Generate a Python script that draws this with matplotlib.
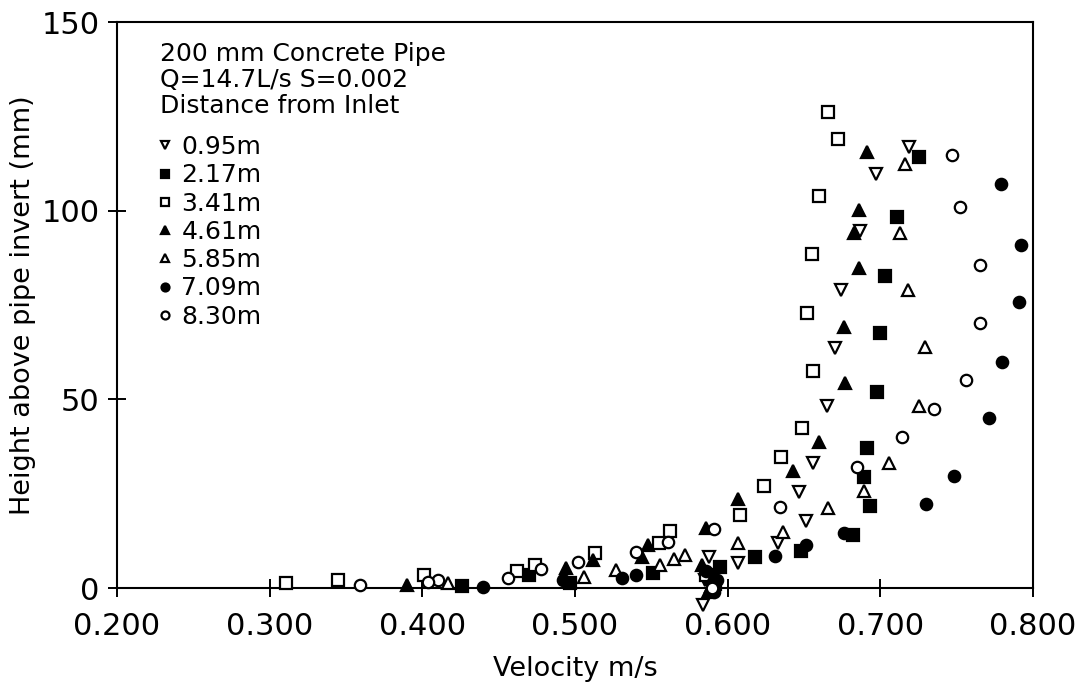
import matplotlib
matplotlib.use("Agg")
import matplotlib.pyplot as plt
from matplotlib.ticker import FixedLocator, FormatStrFormatter

plt.rcParams['font.family'] = ['DejaVu Sans']

# ---- data (velocity m/s, height mm) ----
labels = ["0.95m", "2.17m", "3.41m", "4.61m", "5.85m", "7.09m", "8.30m"]

v095 = [0.719, 0.697, 0.687, 0.674, 0.670, 0.665, 0.656, 0.647, 0.651, 0.633, 0.607, 0.588, 0.585, 0.584]
h095 = [116.8, 109.6, 94.5, 79.1, 63.7, 48.3, 33.2, 25.5, 17.8, 11.9, 6.6, 8.2, 2.0, -4.5]

v217 = [0.725, 0.711, 0.703, 0.700, 0.698, 0.691, 0.689, 0.693, 0.682, 0.648, 0.618, 0.595, 0.592, 0.589, 0.551, 0.497, 0.470, 0.426]
h217 = [114.2, 98.2, 82.8, 67.7, 52.0, 37.2, 29.5, 21.8, 14.1, 9.8, 8.2, 5.6, 1.0, 3.0, 4.0, 1.3, 3.5, 0.5]

v341 = [0.666, 0.672, 0.660, 0.655, 0.652, 0.656, 0.649, 0.635, 0.624, 0.608, 0.562, 0.555, 0.513, 0.474, 0.462, 0.401, 0.345, 0.311, 0.586]
h341 = [126.1, 118.9, 103.8, 88.4, 73.0, 57.6, 42.5, 34.8, 27.1, 19.4, 15.1, 11.9, 9.3, 6.1, 4.5, 3.5, 2.1, 1.3, 3.5]

v461 = [0.691, 0.686, 0.683, 0.686, 0.676, 0.677, 0.660, 0.643, 0.607, 0.586, 0.548, 0.544, 0.512, 0.494, 0.390, 0.583, 0.590, 0.587]
h461 = [115.5, 100.3, 94.2, 84.9, 69.3, 54.4, 38.8, 31.1, 23.6, 15.9, 11.4, 8.2, 7.4, 5.3, 0.8, 6.0, 2.5, -1.0]

v585 = [0.716, 0.713, 0.718, 0.729, 0.725, 0.706, 0.689, 0.666, 0.636, 0.607, 0.572, 0.565, 0.556, 0.527, 0.506, 0.417, 0.589]
h585 = [112.3, 94.2, 79.1, 64.0, 48.3, 33.2, 25.7, 21.2, 14.9, 11.9, 8.8, 7.7, 6.1, 4.8, 2.9, 1.3, 0.5]

v709 = [0.779, 0.792, 0.791, 0.780, 0.771, 0.748, 0.730, 0.676, 0.651, 0.631, 0.540, 0.531, 0.492, 0.440, 0.586, 0.591, 0.593]
h709 = [107.0, 90.8, 75.7, 60.0, 45.1, 29.7, 22.3, 14.6, 11.4, 8.5, 3.5, 2.7, 2.1, 0.3, 4.5, -1.0, 2.0]

v830 = [0.747, 0.752, 0.765, 0.765, 0.756, 0.735, 0.714, 0.685, 0.634, 0.591, 0.561, 0.540, 0.502, 0.478, 0.456, 0.410, 0.404, 0.359, 0.590]
h830 = [114.7, 101.1, 85.7, 70.3, 55.0, 47.5, 40.1, 32.1, 21.5, 15.7, 12.2, 9.6, 6.9, 5.0, 2.7, 2.1, 1.6, 0.8, 0.0]

xticks = [0.2, 0.3, 0.4, 0.5, 0.6, 0.7, 0.8]
yticks = [0, 50, 100, 150]

header = "200 mm Concrete Pipe\nQ=14.7L/s S=0.002\nDistance from Inlet"

series = [
    (v095, h095, 'v', 'white'),
    (v217, h217, 's', 'black'),
    (v341, h341, 's', 'white'),
    (v461, h461, '^', 'black'),
    (v585, h585, '^', 'white'),
    (v709, h709, 'o', 'black'),
    (v830, h830, 'o', 'white'),
]

fig = plt.figure(figsize=(10.82, 6.87), dpi=100)
W, H = 1082, 687
x0, x1, yt, yb = 117, 1033, 22, 588
ax = fig.add_axes([x0 / W, 1 - yb / H, (x1 - x0) / W, (yb - yt) / H])

for (vx, hy, mk, fc), lab in zip(series, labels):
    ax.plot(vx, hy, linestyle='none', marker=mk, markersize=8.2,
            markerfacecolor=fc, markeredgecolor='black', markeredgewidth=1.6,
            label=lab, clip_on=False, zorder=3)

ax.set_xlim(0.2, 0.8)
ax.set_ylim(0, 150)
ax.xaxis.set_major_locator(FixedLocator(xticks))
ax.yaxis.set_major_locator(FixedLocator(yticks))
ax.xaxis.set_major_formatter(FormatStrFormatter('%.3f'))
ax.yaxis.set_major_formatter(FormatStrFormatter('%d'))
ax.tick_params(axis='both', direction='inout', length=13, width=1.4,
               labelsize=22, color='black')
ax.tick_params(axis='x', pad=10.5)
ax.tick_params(axis='y', pad=6)
for s in ax.spines.values():
    s.set_linewidth(1.5)

ax.set_xlabel("Velocity m/s", fontsize=19.5)
ax.xaxis.set_label_coords(0.5, -0.12)
ax.set_ylabel("Height above pipe invert (mm)", fontsize=19.5)
ax.yaxis.set_label_coords(-0.088, 0.5)

ax.text(0.047, 0.965, header, transform=ax.transAxes, ha='left', va='top',
        fontsize=18, linespacing=1.12)

leg = ax.legend(loc='upper left', bbox_to_anchor=(0.043, 0.80), frameon=False,
                fontsize=18, handlelength=0.7, handletextpad=0.3,
                labelspacing=0.17, borderpad=0, borderaxespad=0,
                markerscale=0.7)

fig.savefig("out.png", dpi=100)
